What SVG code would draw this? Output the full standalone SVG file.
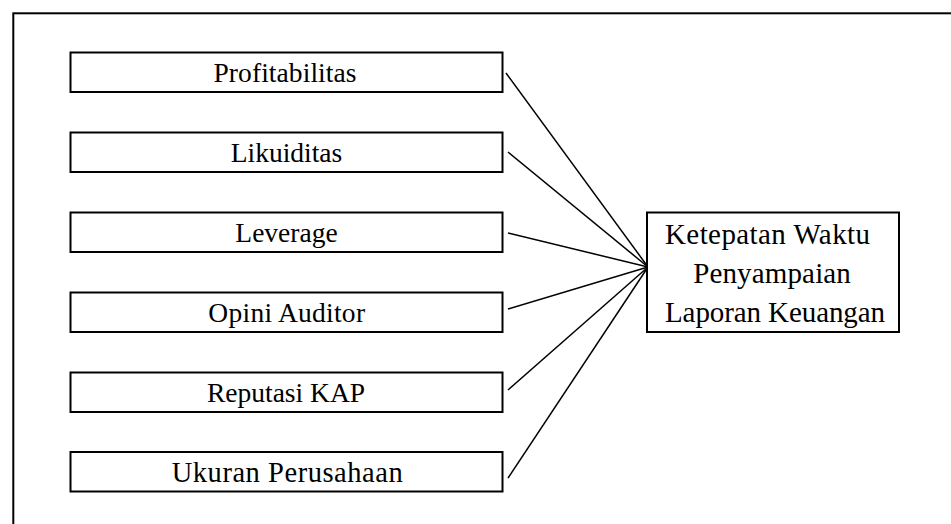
<svg xmlns="http://www.w3.org/2000/svg" width="951" height="524" viewBox="0 0 951 524">
<style>
.box{fill:#fff;stroke:#000;stroke-width:2}
.frame{fill:none;stroke:#000;stroke-width:2}
.t{font-family:"Liberation Serif","Times New Roman",serif;font-size:27.5px;fill:#000;text-anchor:middle}
.r{font-size:29px}
.c{stroke:#000;stroke-width:1.5;fill:none}
</style>
<rect width="951" height="524" fill="#fff"/>
<rect class="frame" x="13.3" y="13.3" width="960" height="540"/>
<g id="connectors">
<line class="c" x1="506" y1="73" x2="648" y2="267"/>
<line class="c" x1="508" y1="152" x2="648" y2="267"/>
<line class="c" x1="508" y1="233" x2="648" y2="267"/>
<line class="c" x1="508" y1="309" x2="648" y2="267"/>
<line class="c" x1="508" y1="390" x2="648" y2="267"/>
<line class="c" x1="508" y1="478" x2="648" y2="267"/>
</g>
<g id="profitabilitas"><rect class="box" x="70.5" y="52.5" width="432" height="39.5"/><text class="t" x="285" y="82" textLength="143">Profitabilitas</text></g>
<g id="likuiditas"><rect class="box" x="70.5" y="132.5" width="432" height="39.5"/><text class="t" x="286.5" y="162">Likuiditas</text></g>
<g id="leverage"><rect class="box" x="70.5" y="212.5" width="432" height="39.5"/><text class="t" x="286.5" y="242">Leverage</text></g>
<g id="opini"><rect class="box" x="70.5" y="292.5" width="432" height="39.5"/><text class="t" x="286.7" y="322" textLength="156.7">Opini Auditor</text></g>
<g id="reputasi"><rect class="box" x="70.5" y="372.5" width="432" height="39.5"/><text class="t" x="286" y="402">Reputasi KAP</text></g>
<g id="ukuran"><rect class="box" x="70.5" y="452" width="432" height="39.5"/><text class="t" x="287.2" y="481.5" style="font-size:28.5px" textLength="231">Ukuran Perusahaan</text></g>
<g id="ketepatan"><rect class="box" x="647" y="212.5" width="252" height="119.5"/>
<text class="t r" x="767.5" y="244" textLength="205">Ketepatan Waktu</text>
<text class="t r" x="772" y="283" textLength="157.7">Penyampaian</text>
<text class="t r" x="775" y="322" textLength="220">Laporan Keuangan</text></g>
</svg>
